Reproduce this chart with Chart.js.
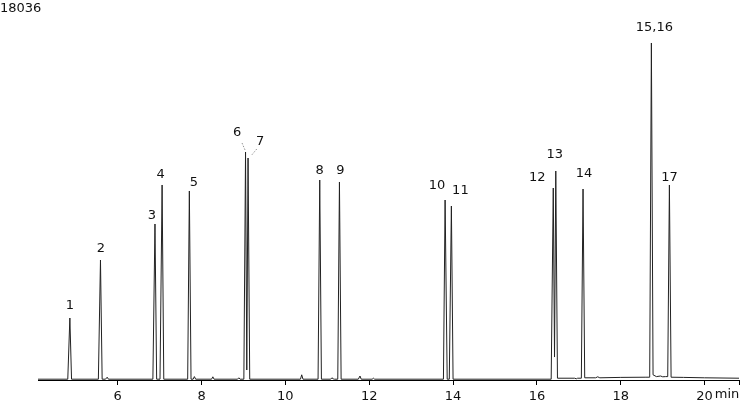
<!DOCTYPE html>
<html>
<head>
<meta charset="utf-8">
<script src="https://cdn.jsdelivr.net/npm/chart.js@4.4.1/dist/chart.umd.min.js"></script>
<style>
html,body{margin:0;padding:0;background:#fff;}
#wrap{position:relative;width:750px;height:401px;}
</style>
</head>
<body>
<div id="wrap"><canvas id="c" width="750" height="401"></canvas></div>
<script>
// ---- data ----
const yMaxLabel = 18036;
const xMin = 4.10, xMax = 20.82;
const tickValues = [6, 8, 10, 12, 14, 16, 18, 20];

const traceTime = [
  4.10, 4.81, 4.86, 4.90, 5.54, 5.59, 5.63, 5.71, 5.75, 5.78,
  6.84, 6.89, 6.93, 7.01, 7.06, 7.10, 7.67, 7.71, 7.75, 7.80,
  7.83, 7.86, 8.24, 8.27, 8.30, 8.86, 8.89, 8.92, 9.01, 9.05,
  9.08, 9.11, 9.15, 10.36, 10.39, 10.42, 10.78, 10.82, 10.86, 11.08,
  11.11, 11.14, 11.17, 11.25, 11.29, 11.33, 11.74, 11.78, 11.81, 12.07,
  12.10, 12.13, 13.77, 13.81, 13.86, 13.91, 13.96, 14.00, 16.34, 16.39,
  16.42, 16.45, 16.49, 16.90, 16.94, 16.97, 17.06, 17.10, 17.14, 17.40,
  17.45, 17.50, 18.00, 18.60, 18.69, 18.73, 18.77, 18.85, 18.95, 19.00,
  19.07, 19.12, 19.16, 19.20, 19.50, 20.00, 20.82
];
const traceSignal = [
  40, 40, 3106, 40, 40, 6012, 40, 40, 140, 40,
  40, 7816, 40, 40, 9770, 40, 40, 9469, 40, 40,
  170, 40, 40, 160, 40, 40, 110, 40, 40, 11423,
  500, 11122, 40, 40, 260, 40, 40, 10020, 40, 40,
  110, 60, 40, 40, 9920, 40, 40, 200, 40, 40,
  90, 40, 40, 9018, 40, 40, 8717, 40, 40, 9619,
  1150, 10471, 90, 90, 60, 90, 90, 9569, 110, 110,
  160, 110, 130, 140, 140, 16884, 260, 170, 200, 160,
  170, 170, 9770, 140, 130, 110, 90
];

const peakLabels  = ['1','2','3','4','5','6','7','8','9','10','11','12','13','14','15,16','17'];
const peakTimes   = [4.86, 5.59, 6.89, 7.06, 7.71, 9.05, 9.11, 10.82, 11.29, 13.81, 13.96, 16.39, 16.45, 17.10, 18.73, 19.16];
const peakHeights = [3106, 6012, 7816, 9770, 9469, 11423, 11122, 10020, 9920, 9018, 8717, 9619, 10471, 9569, 16884, 9770];

// ---- label placement (pixel offsets from peak apex: label centre) ----
const labelOffsets = [
  [0,-12],[0.5,-11],[-3,-8],[-1.5,-10],[4.5,-8],[-8.5,-19],[12,-16],[0,-9],[1,-11],
  [-8,-14],[9,-15],[-16,-10],[-1,-16],[1,-15],[3,-15],[0,-7]
];
const leaderLines = { 5: [[-3.5,-9],[-0.5,-2]], 6: [[8.7,-9],[3.7,-3]] };

const FONT = '13px "DejaVu Sans", Verdana, sans-serif';

const points = traceTime.map((t, i) => ({ x: t, y: traceSignal[i] }));

const annot = {
  id: 'annot',
  afterDatasetsDraw(chart) {
    const ctx = chart.ctx;
    const xs = chart.scales.x, ys = chart.scales.y;
    ctx.save();
    ctx.font = FONT;
    ctx.fillStyle = '#111';
    ctx.textAlign = 'center';
    ctx.textBaseline = 'middle';
    peakLabels.forEach((lab, i) => {
      const px = xs.getPixelForValue(peakTimes[i]);
      const py = ys.getPixelForValue(peakHeights[i]);
      const o = labelOffsets[i];
      ctx.fillText(lab, px + o[0], py + o[1]);
      const ll = leaderLines[i];
      if (ll) {
        ctx.save();
        ctx.strokeStyle = '#777';
        ctx.lineWidth = 0.8;
        ctx.setLineDash([1.5, 1.5]);
        ctx.beginPath();
        ctx.moveTo(px + ll[0][0], py + ll[0][1]);
        ctx.lineTo(px + ll[1][0], py + ll[1][1]);
        ctx.stroke();
        ctx.restore();
      }
    });
    // y-axis maximum label & unit label
    ctx.textAlign = 'left';
    ctx.textBaseline = 'top';
    ctx.fillText(String(yMaxLabel), 0, 2);
    ctx.textAlign = 'center';
    ctx.textBaseline = 'top';
    ctx.fillText('min', 727, 388);
    ctx.restore();
  }
};

new Chart(document.getElementById('c'), {
  type: 'line',
  data: {
    datasets: [{
      data: points,
      borderColor: '#222',
      borderWidth: 1,
      pointRadius: 0,
      tension: 0,
      fill: false
    }]
  },
  options: {
    responsive: false,
    animation: false,
    events: [],
    layout: { padding: { left: 38, right: 11, top: 20, bottom: 0 } },
    plugins: { legend: { display: false }, tooltip: { enabled: false } },
    scales: {
      x: {
        type: 'linear',
        min: xMin,
        max: xMax,
        afterBuildTicks: s => { s.ticks = tickValues.concat([xMax]).map(v => ({ value: v })); },
        afterFit: s => { s.height = 21; },
        border: { display: true, color: '#000', width: 1 },
        grid: { display: true, drawOnChartArea: false, drawTicks: true, tickLength: 5, color: '#000' },
        ticks: {
          autoSkip: false,
          maxRotation: 0,
          padding: 4,
          color: '#111',
          font: { family: '"DejaVu Sans", Verdana, sans-serif', size: 13 },
          callback: v => (tickValues.includes(v) ? String(v) : '')
        }
      },
      y: {
        display: false,
        min: 0,
        max: yMaxLabel
      }
    }
  },
  plugins: [annot]
});
</script>
</body>
</html>
